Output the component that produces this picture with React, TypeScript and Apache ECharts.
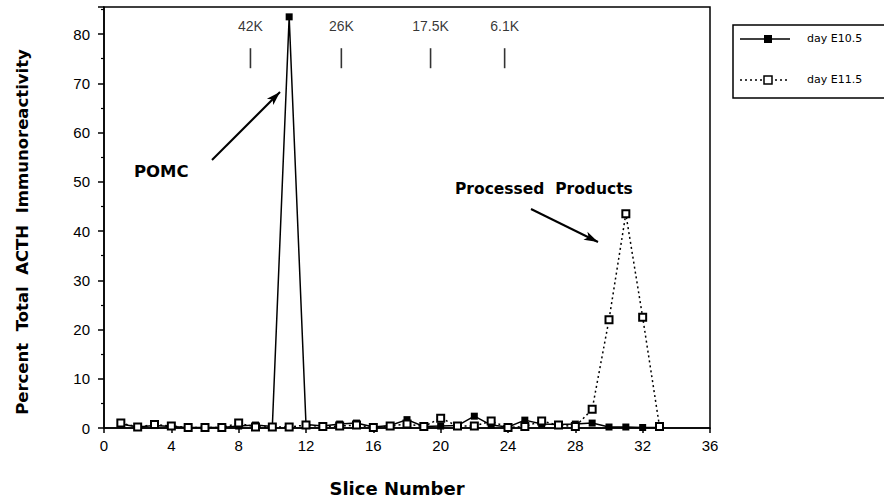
import React, { useEffect, useRef } from "react";
import * as echarts from "echarts";

// Slice numbers (x) for each series
const slicesE105 = [1,2,3,4,5,6,7,8,9,10,11,12,13,14,15,16,17,18,19,20,21,22,23,24,25,26,27,28,29,30,31,32,33];
const valuesE105 = [0.8,0.2,0.5,0.3,0.1,0.1,0.1,0.4,0.6,0.3,83.5,0.7,0.4,0.8,1.0,0.2,0.5,1.7,0.3,0.4,0.5,2.4,0.6,0.2,1.6,0.8,0.7,0.8,1.0,0.2,0.2,0.1,0.1];

const slicesE115 = [1,2,3,4,5,6,7,8,9,10,11,12,13,14,15,16,17,18,19,20,21,22,23,24,25,26,27,28,29,30,31,32,33];
const valuesE115 = [1.0,0.2,0.7,0.4,0.1,0.1,0.1,1.0,0.2,0.2,0.2,0.6,0.3,0.4,0.6,0.1,0.4,0.8,0.3,2.0,0.4,0.4,1.4,0.1,0.3,1.4,0.6,0.3,3.8,22,43.5,22.5,0.3];

// Molecular-weight markers
const markerSlices = [8.7, 14.1, 19.4, 23.8];
const markerLabels = ["42K", "26K", "17.5K", "6.1K"];
const markerLevel = 75.1;

const seriesNames = ["day E10.5", "day E11.5"];

const FONT = "'Liberation Sans', Arial, sans-serif";
const WIDE = "'DejaVu Sans', sans-serif";

function arrowHead(x1: number, y1: number, x2: number, y2: number, len: number, half: number) {
  const dx = x2 - x1, dy = y2 - y1;
  const d = Math.sqrt(dx * dx + dy * dy);
  const ux = dx / d, uy = dy / d;
  const bx = x2 - ux * len, by = y2 - uy * len;
  const px = -uy, py = ux;
  return [
    [x2, y2],
    [bx + px * half, by + py * half],
    [bx + ux * len * 0.25, by + uy * len * 0.25],
    [bx - px * half, by - py * half],
  ];
}

export default function App() {
  const ref = useRef<HTMLDivElement>(null);
  useEffect(() => {
    if (!ref.current) return;
    const chart = echarts.init(ref.current, undefined, { renderer: "svg" });
    const a1 = [212, 160, 280, 92];
    const a2 = [531, 209, 598, 242];
    chart.setOption({
      animation: false,
      backgroundColor: "#fff",
      grid: {
        left: 104, right: 174, top: 7, bottom: 72,
        show: true, borderColor: "#000", borderWidth: 1.5,
      },
      xAxis: {
        type: "value", min: 0, max: 36, interval: 4,
        axisLine: { show: true, lineStyle: { color: "#000", width: 1.5 } },
        axisTick: { show: true, length: 5, lineStyle: { color: "#000", width: 1.5 } },
        axisLabel: { fontFamily: FONT, fontSize: 15, color: "#000", margin: 10 },
        splitLine: { show: false },
      },
      yAxis: {
        type: "value", min: 0, max: 85.5, interval: 10,
        axisLine: { show: true, lineStyle: { color: "#000", width: 1.5 } },
        axisTick: { show: true, length: 6, lineStyle: { color: "#000", width: 1.5 } },
        minorTick: { show: true, splitNumber: 2, length: 3, lineStyle: { color: "#000", width: 1.2 } },
        axisLabel: { fontFamily: FONT, fontSize: 15, color: "#000", margin: 14, showMaxLabel: false },
        splitLine: { show: false },
      },
      series: [
        {
          name: seriesNames[0], type: "line",
          data: slicesE105.map((s, i) => [s, valuesE105[i]]),
          symbol: "rect", symbolSize: 7,
          lineStyle: { color: "#000", width: 1.5 },
          itemStyle: { color: "#000" },
          z: 2,
        },
        {
          name: seriesNames[1], type: "line",
          data: slicesE115.map((s, i) => [s, valuesE115[i]]),
          symbol: "emptyRect", symbolSize: 7,
          showAllSymbol: true,
          lineStyle: { color: "#000", width: 1.5, type: [2, 3] },
          itemStyle: { color: "#000", borderWidth: 1.5 },
          z: 3,
        },
        {
          name: "markers", type: "scatter",
          data: markerSlices.map((s, i) => ({ value: [s, markerLevel], name: markerLabels[i] })),
          symbol: "rect", symbolSize: [1.6, 20],
          itemStyle: { color: "#000" },
          label: {
            show: true, position: "top", distance: 15, formatter: "{b}",
            fontFamily: FONT, fontSize: 14, color: "#000",
          },
          z: 1,
        },
      ],
      graphic: [
        {
          type: "text", x: 22, y: 232, rotation: Math.PI / 2,
          style: { text: "Percent  Total  ACTH  Immunoreactivity", fontFamily: WIDE, fontSize: 16.5, fontWeight: "bold", fill: "#000", align: "center", verticalAlign: "middle" },
        },
        {
          type: "text", x: 397, y: 488,
          style: { text: "Slice Number", fontFamily: WIDE, fontSize: 18, fontWeight: "bold", fill: "#000", align: "center", verticalAlign: "middle" },
        },
        { type: "text", left: 134, top: 163, style: { text: "POMC", fontFamily: WIDE, fontSize: 16.5, fontWeight: "bold", fill: "#000" } },
        { type: "text", left: 455, top: 181, style: { text: "Processed  Products", fontFamily: WIDE, fontSize: 15.5, fontWeight: "bold", fill: "#000" } },
        { type: "line", shape: { x1: a1[0], y1: a1[1], x2: a1[2], y2: a1[3] }, style: { stroke: "#000", lineWidth: 2 } },
        { type: "polygon", shape: { points: arrowHead(a1[0], a1[1], a1[2], a1[3], 14, 4.5) }, style: { fill: "#000" } },
        { type: "line", shape: { x1: a2[0], y1: a2[1], x2: a2[2], y2: a2[3] }, style: { stroke: "#000", lineWidth: 2 } },
        { type: "polygon", shape: { points: arrowHead(a2[0], a2[1], a2[2], a2[3], 14, 4.5) }, style: { fill: "#000" } },
        // legend box
        { type: "rect", shape: { x: 733, y: 25, width: 160, height: 73 }, style: { fill: "none", stroke: "#000", lineWidth: 1.5 } },
        { type: "line", shape: { x1: 740, y1: 39, x2: 790, y2: 39 }, style: { stroke: "#000", lineWidth: 1.5 } },
        { type: "rect", shape: { x: 764, y: 35, width: 8, height: 8 }, style: { fill: "#000" } },
        { type: "text", left: 807, top: 33, style: { text: seriesNames[0], fontFamily: WIDE, fontSize: 11, fill: "#000" } },
        { type: "line", shape: { x1: 740, y1: 80, x2: 790, y2: 80 }, style: { stroke: "#000", lineWidth: 1.5, lineDash: [2, 3] } },
        { type: "rect", shape: { x: 764, y: 76, width: 8, height: 8 }, style: { fill: "#fff", stroke: "#000", lineWidth: 1.5 } },
        { type: "text", left: 807, top: 74, style: { text: seriesNames[1], fontFamily: WIDE, fontSize: 11, fill: "#000" } },
      ],
    });
    return () => chart.dispose();
  }, []);
  return <div ref={ref} style={{ width: 884, height: 500, position: "absolute", left: 0, top: 0 }} />;
}
